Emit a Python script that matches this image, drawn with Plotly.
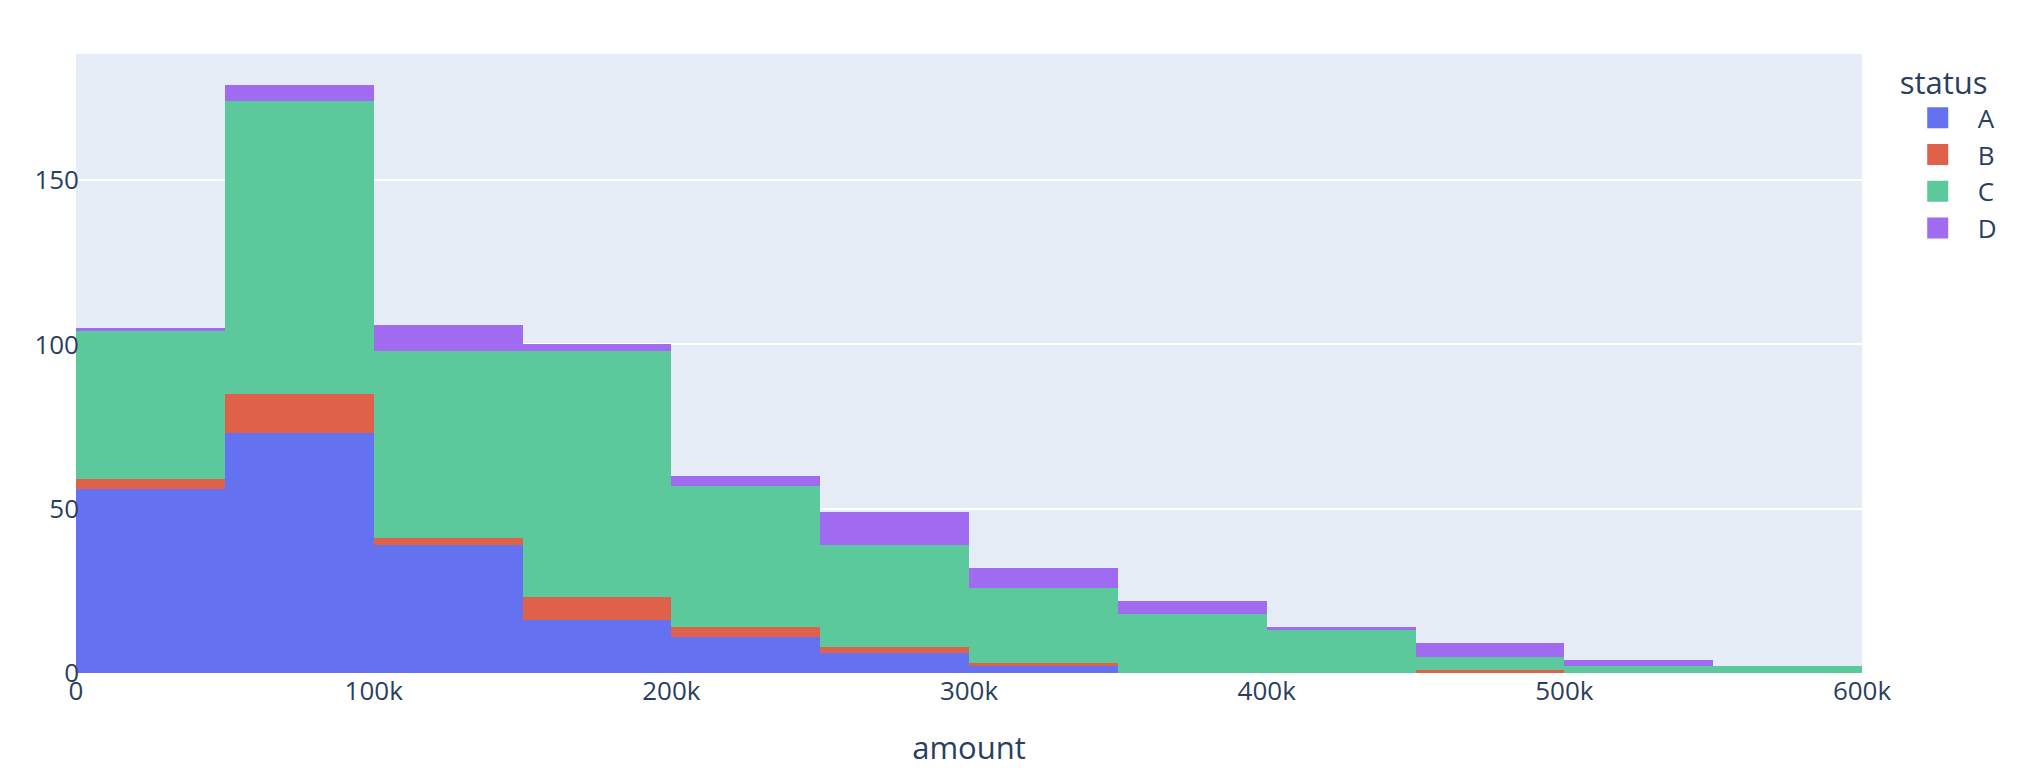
import plotly.graph_objects as go

# Bin centers (amount), bin size 50k
bin_centers = [25000, 75000, 125000, 175000, 225000, 275000, 325000,
               375000, 425000, 475000, 525000, 575000]
statuses = ["A", "B", "C", "D"]
count_A = [56, 73, 39, 16, 11, 6, 2, 0, 0, 0, 0, 0]
count_B = [3, 12, 2, 7, 3, 2, 1, 0, 0, 1, 0, 0]
count_C = [45, 89, 57, 75, 43, 31, 23, 18, 13, 4, 2, 2]
count_D = [1, 5, 8, 2, 3, 10, 6, 4, 1, 4, 2, 0]
x_tickvals = [0, 100000, 200000, 300000, 400000, 500000, 600000]
x_ticktext = ["0", "100k", "200k", "300k", "400k", "500k", "600k"]
colors = ["#6471F1", "#E0614A", "#5BC99B", "#A06BF1"]

series = [count_A, count_B, count_C, count_D]

fig = go.Figure()
for name, vals, col in zip(statuses, series, colors):
    fig.add_trace(go.Histogram(
        x=bin_centers, y=vals, histfunc="sum", name=name,
        xbins=dict(start=0, end=600000, size=50000),
        marker=dict(color=col), legendgroup=name, showlegend=False,
    ))
# legend swatches (no data)
for name, col in zip(statuses, colors):
    fig.add_trace(go.Scatter(
        x=[None], y=[None], mode="markers", name=name, legendgroup=name,
        marker=dict(symbol="square", size=16, color=col,
                    line=dict(width=5, color=col)),
    ))

fig.update_layout(
    template="plotly",
    barmode="stack",
    width=2012, height=766,
    margin=dict(l=68, r=158, t=46, b=101),
    font=dict(size=26),
    legend=dict(title=dict(text="status"), tracegroupgap=0, itemwidth=70),
    xaxis=dict(title=dict(text="amount", standoff=30), automargin=False,
               showgrid=False, range=[0, 600000],
               tickvals=x_tickvals, ticktext=x_ticktext),
    yaxis=dict(gridwidth=2, dtick=50, ticklabelstandoff=-4, range=[0, 188.4],
               automargin=False),
)
fig.write_html("out.html")
